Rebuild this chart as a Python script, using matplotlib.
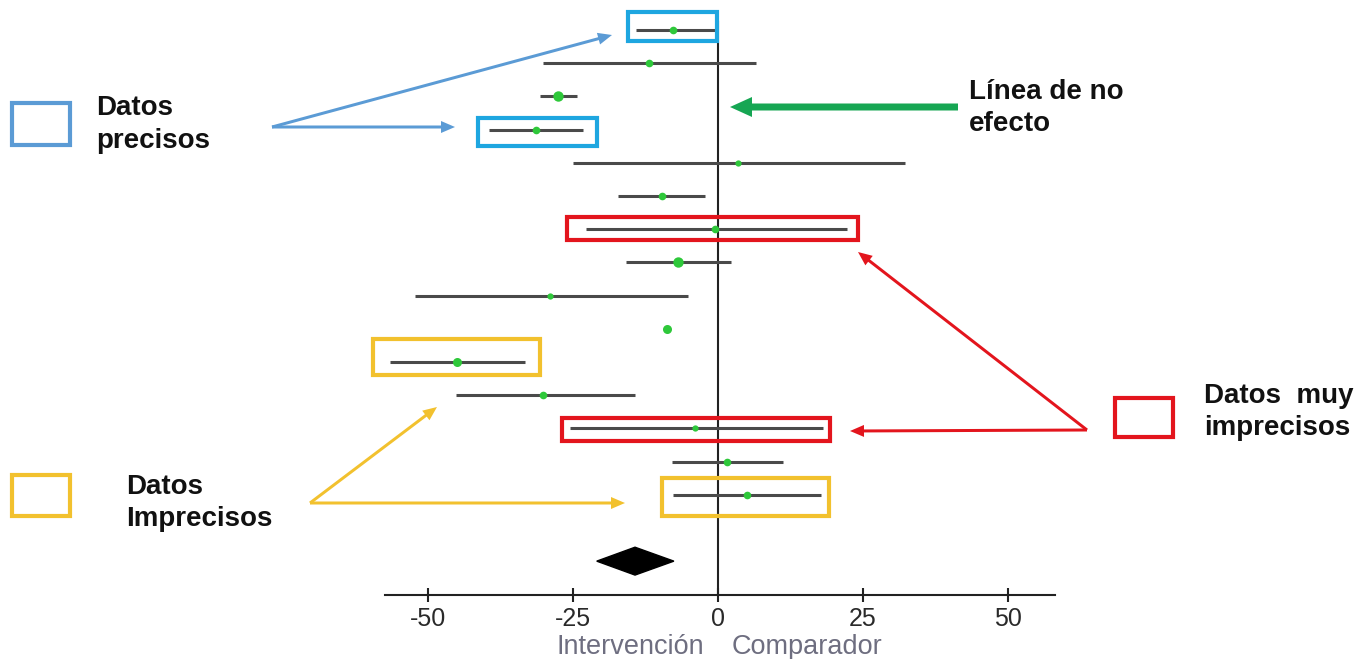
import numpy as np
import matplotlib
matplotlib.use("Agg")
import matplotlib.pyplot as plt
from matplotlib.patches import Rectangle, Polygon

plt.rcParams['font.family'] = ['Liberation Sans', 'DejaVu Sans']

# study estimates (top to bottom) and confidence limits
est = [-7.8, -11.9, -27.6, -31.4, 3.4, -9.7, -0.5, -6.9, -29.0, -8.8, -45.0, -30.2, -4.0, 1.6, 5.0]
lo = [-14.1, -30.2, -30.7, -39.5, -25.0, -17.2, -22.8, -15.9, -52.2, -9.2, -56.6, -45.2, -25.5, -7.9, -7.8]
hi = [-0.4, 6.6, -24.3, -23.3, 32.2, -2.2, 22.2, 2.2, -5.2, -8.4, -33.3, -14.3, 18.1, 11.2, 17.8]
weight = [5.5, 5.5, 7.5, 5.5, 4.5, 5.5, 5.5, 7.5, 4.5, 6.5, 6.5, 5.5, 4.5, 5.5, 5.5]
pooled, pooled_lo, pooled_hi = -14.3, -20.9, -7.6
ticks = [-50, -25, 0, 25, 50]
tick_labels = ['-50', '-25', '0', '25', '50']

W, H = 1372, 659
fig = plt.figure(figsize=(W / 100, H / 100), dpi=100)
fig.patch.set_facecolor('white')

# forest plot axes
ax = fig.add_axes([385 / W, 1 - 595 / H, 670 / W, 595 / H])
ax.set_xlim(-57.4, 58.1)
ax.set_ylim(17.02, -0.904)
ax.set_facecolor('none')
for s in ['top', 'left', 'right']:
    ax.spines[s].set_visible(False)
ax.spines['bottom'].set_linewidth(1.5)
ax.spines['bottom'].set_color('#222222')
ax.set_yticks([])
ax.set_xticks(ticks)
ax.set_xticklabels(tick_labels)
ax.tick_params(axis='x', direction='inout', length=10, width=1.5, color='#222222',
               labelsize=18, labelcolor='#2a2a2a', pad=3.5)

rows = np.arange(len(est))
ax.plot([0, 0], [-0.24, 17.02], color='#222222', lw=1.5, zorder=2)
ax.hlines(rows, lo, hi, color='#4a4a4a', lw=2.2, zorder=3)
for r, e, w in zip(rows, est, weight):
    ax.plot(e, r, 'o', color='#2ec83a', ms=w, mec='none', zorder=4)

d = 16
h = 0.42
ax.add_patch(Polygon([[pooled_lo, d], [pooled, d - h], [pooled_hi, d], [pooled, d + h]],
                     closed=True, color='black', zorder=4))

# boxes around highlighted studies
cyan = '#1ea6e0'
blue = '#5b9bd5'
red = '#e3151d'
yellow = '#f2c12e'
green = '#16a653'


def box(x0, x1, r0, r1, c):
    ax.add_patch(Rectangle((x0, r0), x1 - x0, r1 - r0, fill=False, ec=c, lw=3,
                           clip_on=False, zorder=5))


box(-15.5, -0.2, -0.54, 0.33, cyan)
box(-41.4, -20.9, 2.65, 3.49, cyan)
box(-26.0, 24.1, 5.63, 6.33, red)
box(-59.5, -30.7, 9.31, 10.39, yellow)
box(-26.9, 19.3, 11.69, 12.38, red)
box(-9.7, 19.1, 13.49, 14.64, yellow)

# overlay in pixel coordinates for labels and arrows
ov = fig.add_axes([0, 0, 1, 1])
ov.set_xlim(0, W)
ov.set_ylim(H, 0)
ov.axis('off')
ov.patch.set_alpha(0)


def arrow(x0, y0, x1, y1, c, w=3, hw=12, hl=14):
    ov.arrow(x0, y0, x1 - x0, y1 - y0, width=w, head_width=hw, head_length=hl,
             length_includes_head=True, color=c, lw=0, zorder=6)


arrow(272, 127, 612, 35, blue)
arrow(272, 127, 455, 127, blue)
arrow(958, 107, 730, 107, green, w=7, hw=20, hl=22)
arrow(1087, 430, 858, 252, red)
arrow(1087, 430, 850, 431, red)
arrow(310, 503, 437, 407, yellow)
arrow(310, 503, 625, 503, yellow)

for (x0, y0, x1, y1, c) in [(12, 103, 70, 145, blue), (1115, 398, 1173, 437, red),
                            (12, 475, 70, 516, yellow)]:
    ov.add_patch(Rectangle((x0, y0), x1 - x0, y1 - y0, fill=False, ec=c, lw=3))

tk = dict(fontsize=20, fontweight='bold', color='#111111', va='center', ha='left')
ov.text(96, 108, 'Datos', **tk)
ov.text(96, 141, 'precisos', **tk)
ov.text(969, 92, 'Línea de no', **tk)
ov.text(969, 124, 'efecto', **tk)
ov.text(1204, 396, 'Datos  muy', **tk)
ov.text(1204, 428, 'imprecisos', **tk)
ov.text(126, 487, 'Datos', **tk)
ov.text(126, 519, 'Imprecisos', **tk)

ov.text(704, 647, 'Intervención', fontsize=19.5, color='#6e6e80', ha='right', va='center')
ov.text(732, 647, 'Comparador', fontsize=19.5, color='#6e6e80', ha='left', va='center')

fig.savefig('out.png', dpi=100, facecolor='white')
